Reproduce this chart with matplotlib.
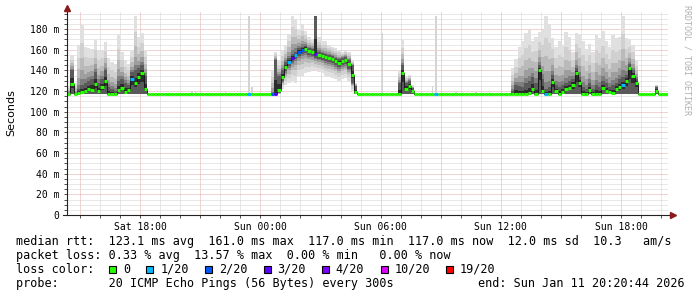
import numpy as np
import matplotlib.pyplot as plt
from matplotlib.patches import Rectangle

plt.rcParams['font.family'] = 'DejaVu Sans Mono'

W, H = 697, 297

# ---------------- data (10 minute steps, Sat 14:20:44 -> Sun 20:20:44) ----------------
n_steps = 180
step_h = 10 / 60.0
floor_ms = 117.0

# Saturday afternoon burst, steps 0..23
burst1_start = 0
burst1_med = [117, 127, 117, 118, 119, 120, 122, 121, 127, 120, 124, 130,
              117, 117, 117, 121, 123, 119, 121, 132, 128, 134, 137, 122]
burst1_q75 = [118, 140, 118, 122, 126, 128, 130, 132, 138, 128, 132, 140,
              124, 122, 120, 130, 132, 128, 126, 138, 140, 142, 145, 135]
burst1_max = [125, 155, 128, 165, 184, 163, 162, 161, 169, 160, 160, 167,
              152, 148, 146, 174, 158, 150, 146, 160, 193, 172, 176, 160]

# hump after midnight, steps 61..86
hump_start = 61
hump_med = [117, 117, 121, 134, 143, 148, 152, 155, 158, 160, 161, 159, 158,
            156, 155, 154, 153, 152, 151, 149, 147, 149, 150, 146, 136, 119]
hump_min = [117, 117, 117, 122, 126, 128, 130, 128, 135, 135, 137, 138, 140,
            140, 138, 137, 135, 134, 133, 132, 130, 132, 133, 130, 120, 117]
hump_q25 = [117, 117, 118, 130, 139, 144, 148, 151, 154, 156, 157, 155, 154,
            152, 151, 150, 149, 148, 147, 145, 143, 145, 146, 141, 128, 117]
hump_q75 = [117, 150, 135, 140, 148, 152, 156, 158, 162, 163, 164, 162, 161,
            193, 158, 157, 156, 155, 154, 152, 151, 152, 153, 150, 145, 125]
hump_max = [140, 158, 150, 160, 165, 175, 193, 190, 180, 185, 178, 172, 170,
            193, 172, 168, 168, 165, 163, 162, 160, 158, 160, 158, 150, 128]

# short spike around Sun 07:00, steps 99..103
spike_start = 99
spike_med = [117, 137, 122, 125, 120]
spike_q75 = [128, 145, 128, 130, 123]
spike_max = [140, 169, 135, 136, 126]

# afternoon burst, steps 133..170
burst2_start = 133
burst2_med = [117, 117, 117, 117, 117, 118, 122, 117, 140, 120, 117, 117, 129,
              120, 117, 119, 122, 123, 126, 137, 128, 117, 117, 121, 117, 117,
              117, 123, 120, 119, 118, 122, 124, 126, 130, 142, 135, 128]
burst2_q75 = [120, 126, 125, 124, 128, 130, 134, 128, 145, 132, 122, 124, 136,
              126, 124, 126, 128, 130, 132, 142, 134, 124, 122, 128, 122, 126,
              124, 130, 128, 124, 126, 128, 132, 134, 136, 146, 140, 132]
burst2_max = [142, 151, 163, 168, 176, 179, 168, 172, 177, 179, 193, 185, 171,
              163, 168, 165, 177, 172, 158, 176, 174, 168, 161, 166, 158, 174,
              171, 178, 168, 163, 174, 171, 172, 193, 171, 170, 165, 150]

# small bump near the end
bump_start = 176
bump_med = [120]
bump_q75 = [124]
bump_max = [126]

# single high pings on otherwise flat stretches
lone_steps = [37, 38, 47, 54, 55, 94, 109, 110, 116, 122, 126]
lone_max = [120, 120, 120, 193, 124, 176, 125, 193, 119, 119, 119]

# packet loss (out of 20)
loss_steps = [19, 54, 61, 62, 66, 67, 68, 69, 70, 74, 110, 143, 166]
loss_count = [1, 1, 2, 3, 1, 3, 1, 2, 2, 3, 1, 1, 1]

loss_levels = [0, 1, 2, 3, 4, 10, 19]
loss_labels = ['0', '1/20', '2/20', '3/20', '4/20', '10/20', '19/20']
loss_colors = ['#26ff00', '#00b8ff', '#0059ff', '#5e00ff', '#7e00ff', '#dd00ff', '#ff0000']

# ---------------- assemble ----------------
med = np.full(n_steps, floor_ms)
lo = med.copy()
q25 = med.copy()
q75 = med.copy()
hi = med.copy()
loss = np.zeros(n_steps, dtype=int)


def put(start, m, upper, top, low=None, lower=None):
    sl = slice(start, start + len(m))
    med[sl] = m
    q75[sl] = upper
    hi[sl] = top
    if low is not None:
        lo[sl] = low
        q25[sl] = lower


put(burst1_start, burst1_med, burst1_q75, burst1_max)
put(hump_start, hump_med, hump_q75, hump_max, hump_min, hump_q25)
put(spike_start, spike_med, spike_q75, spike_max)
put(burst2_start, burst2_med, burst2_q75, burst2_max)
put(bump_start, bump_med, bump_q75, bump_max)
loss[loss_steps] = loss_count

x = np.arange(n_steps) * step_h


def loss_color(n):
    c = loss_colors[0]
    for lvl, col in zip(loss_levels, loss_colors):
        if n >= lvl:
            c = col
    return c


# ---------------- figure ----------------
fig = plt.figure(figsize=(W / 100, H / 100), dpi=100)
fig.patch.set_facecolor('white')
ax = fig.add_axes([67 / W, 1 - 215 / H, 601 / W, 203 / H])
ax.set_xlim(0, 30)
ax.set_ylim(0, 196.5)
for s in ax.spines.values():
    s.set_visible(False)

# grid
start_clock = 14 + 20 / 60 + 44 / 3600
for hh in range(15, 45):
    xv = hh - start_clock
    major = hh % 3 == 0
    ax.axvline(xv, color='#e3a9a9' if major else '#d2d2d2', lw=0.72,
               ls=(0, (1, 1)), zorder=1)
for v in range(5, 200, 5):
    major = v % 20 == 0
    ax.axhline(v, color='#e3a9a9' if major else '#d2d2d2', lw=0.72,
               ls=(0, (1, 1)), zorder=1)

# smoke
bar_kw = dict(align='edge', linewidth=0, antialiased=False, zorder=2)
ax.bar(np.array(lone_steps) * step_h + step_h * 0.25, np.array(lone_max) - floor_ms,
       bottom=floor_ms, width=step_h * 0.5, color='#d4d4d4', **bar_kw)
shades = [(1.0, '#e0e0e0'), (0.7, '#d0d0d0'), (0.45, '#bababa'),
          (0.25, '#9e9e9e'), (0.1, '#7e7e7e')]
for f, c in shades:
    top = q75 + f * (hi - q75)
    bot = q25 - f * (q25 - lo)
    ax.bar(x, top - bot, bottom=bot, width=step_h, color=c, **bar_kw)
ax.bar(x, q75 - q25, bottom=q25, width=step_h, color='#5a5a5a', **bar_kw)
core_top = med + 0.4 * (q75 - med)
core_bot = med - 0.4 * (med - q25)
ax.bar(x, core_top - core_bot, bottom=core_bot, width=step_h, color='#2c2c2c', **bar_kw)

# median
ax.step(np.append(x, 30), np.append(med, med[-1]), where='post',
        color='#1a1a1a', lw=0.7, zorder=3)
ax.hlines(med, x, x + step_h, colors=[loss_color(n) for n in loss],
          lw=2.2, zorder=4, capstyle='butt')

# axes with arrows
ax.plot([-0.2, 30.2], [0, 0], color='#222222', lw=0.8, clip_on=False, zorder=5)
ax.plot([0, 0], [0, 199], color='#222222', lw=0.8, clip_on=False, zorder=5)
ax.plot([0], [200], marker='^', ms=4, color='#8b1a1a', clip_on=False, zorder=6)
ax.plot([30.25], [0], marker='>', ms=4, color='#8b1a1a', clip_on=False, zorder=6)

# ticks
tick_clock = [18, 24, 30, 36, 42]
tick_labels = ['Sat 18:00', 'Sun 00:00', 'Sun 06:00', 'Sun 12:00', 'Sun 18:00']
ax.set_xticks([h - start_clock for h in tick_clock])
ax.set_xticklabels(tick_labels)
ax.set_xticks([h - start_clock for h in range(15, 45)], minor=True)
y_vals = list(range(0, 181, 20))
ax.set_yticks(y_vals)
ax.set_yticklabels(['0'] + ['%d m' % v for v in y_vals[1:]])
ax.set_yticks(list(range(5, 200, 5)), minor=True)
ax.tick_params(axis='both', which='both', length=2, width=0.6, color='#333333',
               labelsize=7, labelcolor='black')
ax.tick_params(axis='x', pad=3.0)
ax.tick_params(axis='y', pad=3.5)


def ftext(px, py, s, **kw):
    return fig.text(px / W, 1 - py / H, s, **kw)


ftext(11, 113, 'Seconds', rotation=90, ha='center', va='center',
      family='DejaVu Sans', fontsize=8)
ftext(687, 60, 'RRDTOOL / TOBI OETIKER', rotation=270, ha='center', va='center',
      fontsize=6, color='#b0b0b0')

# legend
fs = 8.5
cw = 7.14
rows = [241.3, 255.3, 269.3, 283.7]
ftext(16, rows[0], 'median rtt:  123.1 ms avg  161.0 ms max  117.0 ms min  '
      '117.0 ms now  12.0 ms sd  10.3   am/s', va='center', fontsize=fs)
ftext(16, rows[1], 'packet loss: 0.33 % avg  13.57 % max  0.00 % min   0.00 % now',
      va='center', fontsize=fs)
ftext(16, rows[2], 'loss color:', va='center', fontsize=fs)
col = 13.0
for lab, c in zip(loss_labels, loss_colors):
    bx = 16 + col * cw + 0.5
    fig.patches.append(Rectangle((bx / W, 1 - (rows[2] + 3.8) / H), 7 / W, 7.6 / H,
                                 transform=fig.transFigure, facecolor=c,
                                 edgecolor='black', lw=0.8))
    ftext(16 + (col + 2) * cw, rows[2], lab, va='center', fontsize=fs)
    col += 2 + len(lab) + 2.2
ftext(16, rows[3], 'probe:       20 ICMP Echo Pings (56 Bytes) every 300s',
      va='center', fontsize=fs)
ftext(478, rows[3], 'end: Sun Jan 11 20:20:44 2026', va='center', fontsize=fs)

fig.savefig('out.png', dpi=100, facecolor='white')
